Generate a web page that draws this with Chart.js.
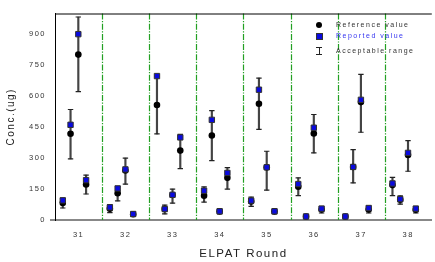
<!DOCTYPE html>
<html>
<head>
<meta charset="utf-8">
<script src="https://cdn.jsdelivr.net/npm/chart.js@4"></script>
<style>
  body { margin: 0; overflow: hidden; background: #fff; }
  #wrap { position: relative; width: 437px; height: 262px; }
  .legend { position: absolute; left: 313px; top: 20px; font: 7px "Liberation Sans", Arial, sans-serif; letter-spacing: 1.5px; color: #333; }
  .row { position: absolute; left: 0; white-space: nowrap; height: 10px; line-height: 10px; }
  .row span.t { position: absolute; left: 23px; top: 0; }
  .dot { position: absolute; left: 3px; top: 2px; width: 6px; height: 6px; border-radius: 50%; background: #000; }
  .sq { position: absolute; left: 3px; top: 2px; width: 5px; height: 5px; background: #0a0adf; border: 1px solid #333; box-sizing: content-box; }
  .ibar { position: absolute; left: 3px; top: 1px; width: 6px; height: 8px; }
  .ibar i { position: absolute; background: #222; }
</style>
</head>
<body>
<div id="wrap">
  <canvas id="chart"></canvas>
  <div class="legend">
    <div class="row" style="top:0px"><div class="dot"></div><span class="t">Reference value</span></div>
    <div class="row" style="top:11px"><div class="sq"></div><span class="t" style="color:#3535f0">Reported value</span></div>
    <div class="row" style="top:26px"><div class="ibar"><i style="left:0;top:0;width:6px;height:1px"></i><i style="left:2.5px;top:0;width:1px;height:8px"></i><i style="left:0;top:7px;width:6px;height:1px"></i></div><span class="t">Acceptable range</span></div>
  </div>
</div>
<script>
// ELPAT rounds, four samples per round
var rounds = [31, 32, 33, 34, 35, 36, 37, 38];
var yTicks = [0, 150, 300, 450, 600, 750, 900];

// values listed round by round, four samples each
var referenceValues = [
  82, 418, 801, 172,
  55, 130, 240, 28,
  557, 53, 121, 336,
  118, 409, 42, 204,
  90, 563, 255, 42,
  161, 17, 419, 51,
  17, 257, 571, 51,
  169, 98, 315, 50
];
var reportedValues = [
  95, 461, 900, 193,
  61, 153, 245, 29,
  697, 53, 122, 400,
  142, 485, 42, 228,
  94, 631, 255, 42,
  174, 17, 447, 55,
  17, 257, 582, 58,
  177, 101, 325, 55
];
var rangeLow = [
  58, 296, 622, 126,
  36, 93, 174, 20,
  417, 30, 82, 249,
  87, 288, 30, 150,
  66, 439, 145, 30,
  118, 10, 325, 34,
  10, 180, 425, 34,
  118, 77, 236, 34
];
var rangeHigh = [
  106, 535, 983, 217,
  74, 161, 300, 36,
  697, 72, 150, 415,
  160, 530, 54, 254,
  111, 687, 333, 54,
  204, 24, 511, 66,
  24, 341, 705, 66,
  206, 117, 384, 66
];

// where each sample sits inside its round
var sampleOffsets = [-0.335, -0.17, -0.005, 0.16];

function xOf(i) {
  return rounds[Math.floor(i / 4)] + sampleOffsets[i % 4];
}
function pts(arr) {
  return arr.map(function (v, i) { return {x: xOf(i), y: v}; });
}

var frame = {
  id: 'frame',
  beforeLayout: function (chart) { chart.ctx.letterSpacing = '1.5px'; },
  beforeDraw: function (chart) { chart.ctx.letterSpacing = '1.5px'; },
  beforeDatasetsDraw: function (chart) {
    var ctx = chart.ctx, a = chart.chartArea, xs = chart.scales.x;
    ctx.save();
    ctx.strokeStyle = '#22a022';
    ctx.lineWidth = 1.2;
    ctx.setLineDash([6, 1.5, 1.2, 1.5]);
    for (var i = 0; i < rounds.length - 1; i++) {
      var px = Math.round(xs.getPixelForValue(rounds[i] + 0.5)) + 0.5;
      ctx.beginPath();
      ctx.moveTo(px, a.top);
      ctx.lineTo(px, a.bottom);
      ctx.stroke();
    }
    ctx.setLineDash([]);
    ctx.strokeStyle = '#000';
    ctx.lineWidth = 1;
    ctx.beginPath();
    ctx.moveTo(a.left, a.top + 0.5);
    ctx.lineTo(a.right, a.top + 0.5);
    ctx.stroke();
    ctx.strokeStyle = '#888';
    ctx.lineWidth = 2;
    ctx.beginPath();
    ctx.moveTo(a.left - 5, a.bottom);
    ctx.lineTo(a.left, a.bottom);
    ctx.stroke();
    ctx.restore();
  }
};

new Chart(document.getElementById('chart'), {
  type: 'scatter',
  data: {
    datasets: [
      {
        label: 'Reported value',
        data: pts(reportedValues),
        pointStyle: 'rect',
        pointRadius: 3.8,
        backgroundColor: '#0a0adf',
        borderColor: '#333',
        borderWidth: 1,
        order: 0
      },
      {
        label: 'Reference value',
        data: pts(referenceValues),
        pointStyle: 'circle',
        pointRadius: 3.3,
        backgroundColor: '#000',
        borderColor: '#000',
        borderWidth: 0,
        order: 1
      },
      {
        label: 'high',
        data: pts(rangeHigh),
        pointStyle: 'line',
        pointRadius: 2.7,
        borderColor: '#222',
        borderWidth: 1.2,
        order: 2
      },
      {
        label: 'low',
        data: pts(rangeLow),
        pointStyle: 'line',
        pointRadius: 2.7,
        borderColor: '#222',
        borderWidth: 1.2,
        order: 2
      },
      {
        type: 'bar',
        label: 'Acceptable range',
        data: rangeLow.map(function (lo, i) { return {x: xOf(i), y: [lo, rangeHigh[i]]}; }),
        barThickness: 1.5,
        backgroundColor: '#444',
        order: 3
      }
    ]
  },
  options: {
    responsive: true,
    maintainAspectRatio: false,
    animation: false,
    events: [],
    layout: {padding: {top: 10, left: 0, right: 0, bottom: 0}},
    plugins: {
      legend: {display: false},
      tooltip: {enabled: false}
    },
    scales: {
      x: {
        type: 'linear',
        min: 30.5,
        max: 38.5,
        offset: false,
        afterBuildTicks: function (s) { s.ticks = rounds.map(function (v) { return {value: v}; }); },
        afterFit: function (s) { s.height = 42; },
        grid: {display: false, drawTicks: false},
        border: {display: true, color: '#888', width: 2},
        ticks: {
          padding: 10,
          color: '#333',
          font: {family: 'Liberation Sans', size: 7.5},
          maxRotation: 0,
          callback: function (v) { return v; }
        },
        title: {
          display: true,
          text: 'ELPAT Round',
          color: '#222',
          font: {family: 'Liberation Sans', size: 11.5},
          padding: {top: 0, bottom: 1.5}
        }
      },
      y: {
        min: 0,
        max: 1000,
        afterBuildTicks: function (s) { s.ticks = yTicks.map(function (v) { return {value: v}; }); },
        afterFit: function (s) { s.width = 55; },
        grid: {display: false, drawTicks: false},
        border: {display: true, color: '#000', width: 1},
        ticks: {
          padding: 9,
          color: '#333',
          font: {family: 'Liberation Sans', size: 7.5}
        },
        title: {
          display: true,
          text: 'Conc.(ug)',
          color: '#222',
          font: {family: 'Liberation Sans', size: 10},
          padding: {top: 5, bottom: 0}
        }
      }
    }
  },
  plugins: [frame]
});
</script>
</body>
</html>
